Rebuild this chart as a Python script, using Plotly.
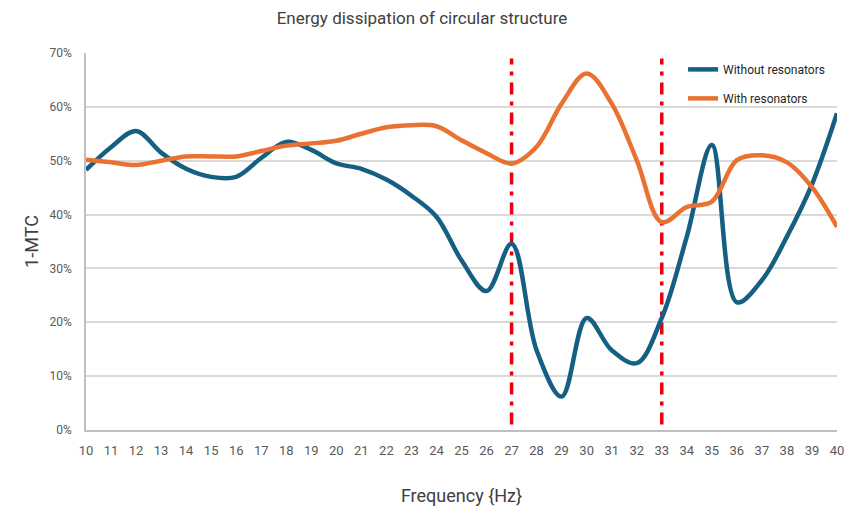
import plotly.graph_objects as go

freq = list(range(10, 41))
without_res = [48.3, 52.5, 55.5, 51.5, 48.5, 47.0, 47.0, 50.5, 53.5, 52.0, 49.5, 48.5, 46.5, 43.5,
               39.6, 31.5, 25.8, 34.6, 14.8, 6.2, 20.8, 14.8, 12.4, 20.8, 35.9, 52.9, 23.7, 27.8,
               35.9, 45.6, 58.8]
with_res = [50.2, 49.7, 49.2, 50.0, 50.8, 50.8, 50.8, 51.8, 52.8, 53.2, 53.7, 55.0, 56.2, 56.6,
            56.4, 53.8, 51.4, 49.5, 52.6, 60.6, 66.2, 60.6, 50.1, 38.6, 41.4, 42.4, 50.1, 51.0,
            49.7, 45.1, 37.7]
marker_freqs = [27, 33]
marker_span = [1, 69]
yticks = [0, 10, 20, 30, 40, 50, 60, 70]

fig = go.Figure()
for f in marker_freqs:
    fig.add_trace(go.Scatter(x=[f, f], y=marker_span, mode="lines", showlegend=False,
                             line=dict(color="#e8000b", width=3.5, dash="12px,7px,4px,7px"),
                             hoverinfo="skip"))
fig.add_trace(go.Scatter(x=freq, y=without_res, mode="lines", name="Without resonators",
                         legendgroup="a",
                         line=dict(color="#156082", width=4.5, shape="spline", smoothing=1.0)))
fig.add_trace(go.Scatter(x=freq, y=with_res, mode="lines", name="With resonators",
                         legendgroup="b",
                         line=dict(color="#E97132", width=4.5, shape="spline", smoothing=1.0)))

font_family = "Liberation Sans Narrow, Roboto, Arial, sans-serif"
fig.update_layout(
    width=844, height=506,
    margin=dict(l=86, r=7, t=53, b=76, autoexpand=False),
    paper_bgcolor="white", plot_bgcolor="white",
    font=dict(family=font_family, color="#595959", size=12),
    title=dict(text="Energy dissipation of circular structure", x=0.5, xanchor="center",
               y=0.964, yanchor="middle", font=dict(size=17, color="#404040", family="Roboto, Arial")),
    legend=dict(x=0.795, y=0.995, xanchor="left", yanchor="top", bgcolor="rgba(0,0,0,0)",
                font=dict(size=12, color="#262626"), tracegroupgap=10),
    xaxis=dict(range=[10, 40], tickmode="array", tickvals=freq, ticktext=[str(f) for f in freq],
               showgrid=False, showline=True, linecolor="#bfbfbf", linewidth=1.5,
               zeroline=False, ticks="", ticklabelstandoff=8, automargin=False,
               ticklabeloverflow="allow",
               tickfont=dict(size=13, color="#595959"),
               title=dict(text="Frequency {Hz}", font=dict(size=18, color="#404040", family="Roboto, Arial"),
                          standoff=40)),
    yaxis=dict(range=[0, 70], tickmode="array", tickvals=yticks,
               ticktext=[f"{v}%" for v in yticks], showgrid=True, gridcolor="#d9d9d9",
               gridwidth=1.5, showline=True, linecolor="#bfbfbf", linewidth=1.5, zeroline=False,
               ticks="", ticklabelstandoff=10, automargin=False,
               tickfont=dict(size=12, color="#595959"),
               title=dict(text="1-MTC", font=dict(size=18, color="#404040", family="Roboto, Arial"),
                          standoff=6)),
)
fig.write_html("out.html")
